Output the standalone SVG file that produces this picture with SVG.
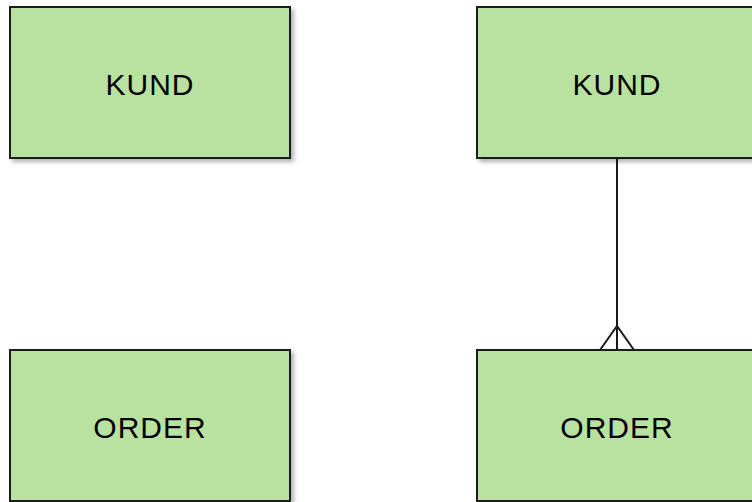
<svg xmlns="http://www.w3.org/2000/svg" width="752" height="502" viewBox="0 0 752 502">
<style>
.box{fill:#b9e1a0;stroke:#1a1a1a;stroke-width:2;filter:url(#sh)}
.lbl{font-family:"Liberation Sans",Arial,sans-serif;font-size:30px;letter-spacing:1px;fill:#000;text-anchor:middle}
.con{fill:none;stroke:#1a1a1a;stroke-width:2}
</style>
<defs>
<filter id="sh" x="-10%" y="-10%" width="130%" height="130%">
<feDropShadow dx="3" dy="3" stdDeviation="2" flood-color="#000" flood-opacity="0.3"/>
</filter>
</defs>
<rect width="752" height="502" fill="#fff"/>
<g id="kund1"><rect class="box" x="10" y="7" width="280" height="151"/><text class="lbl" x="150" y="95">KUND</text></g>
<g id="order1"><rect class="box" x="10" y="350" width="280" height="151"/><text class="lbl" x="150" y="438">ORDER</text></g>
<g id="kund2"><rect class="box" x="477" y="7" width="280" height="151"/><text class="lbl" x="617" y="95">KUND</text></g>
<g id="order2"><rect class="box" x="477" y="350" width="280" height="151"/><text class="lbl" x="617" y="438">ORDER</text></g>
<g id="connectors">
<path class="con" d="M617 158 V350"/>
<path class="con" d="M600 350 L617 326 L634 350"/>
</g>
</svg>
